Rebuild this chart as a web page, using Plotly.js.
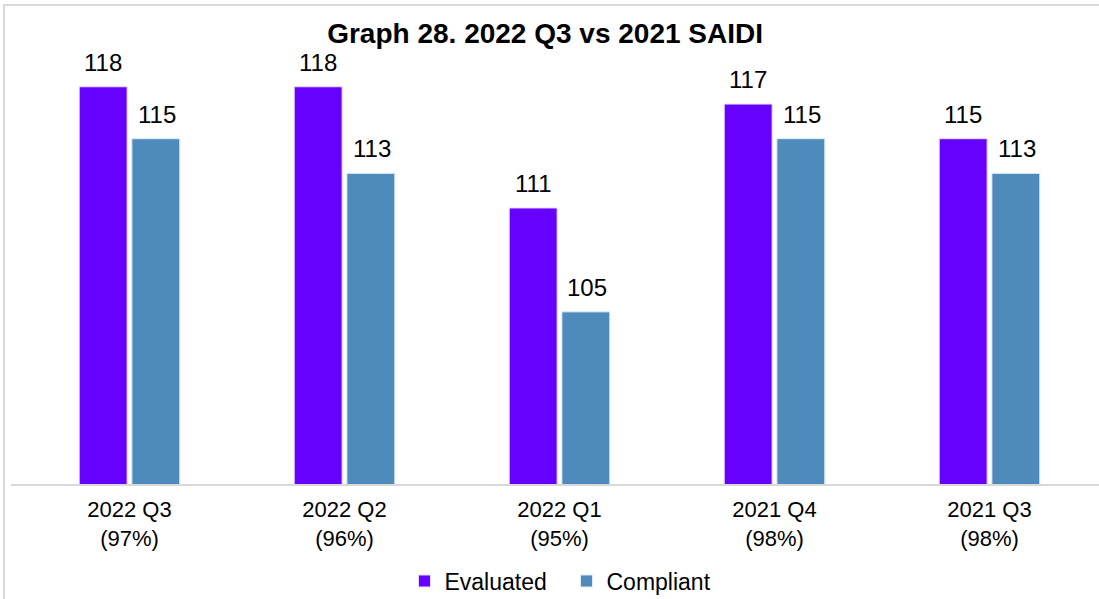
<!DOCTYPE html>
<html>
<head>
<meta charset="utf-8">
<script src="https://cdn.plot.ly/plotly-3.0.1.min.js"></script>
<style>
  html, body { margin: 0; padding: 0; background: #fff; overflow: hidden; }
  #chart { width: 1099px; height: 599px; }
  #frame { position: absolute; left: 3px; top: 4px; width: 1110px; height: 610px;
           border: 2px solid #d9d9d9; box-sizing: border-box; pointer-events: none; }
</style>
</head>
<body>
<div id="chart"></div>
<div id="frame"></div>
<script>
// chart data
const quarters = ['2022 Q3', '2022 Q2', '2022 Q1', '2021 Q4', '2021 Q3'];
const shares = ['97%', '96%', '95%', '98%', '98%'];
const evaluated = [118, 118, 111, 117, 115];
const compliant = [115, 113, 105, 115, 113];

const categories = quarters.map((q, i) => q + '<br>(' + shares[i] + ')');

const traces = [{
  x: categories,
  y: evaluated,
  name: 'Evaluated',
  type: 'bar',
  marker: { color: '#6600ff', line: { color: '#e8e0ff', width: 1 } }
}, {
  x: categories,
  y: compliant,
  name: 'Compliant',
  type: 'bar',
  marker: { color: '#4f8abd', line: { color: '#e0ecf6', width: 1 } }
}];

// value labels sit above each bar, shifted to its slot in the group
const labelFont = { size: 24, color: '#000' };
const valueLabels = [];
categories.forEach((c, i) => {
  valueLabels.push({ x: c, y: evaluated[i], text: String(evaluated[i]), xshift: -27, yshift: 9,
    yanchor: 'bottom', showarrow: false, font: labelFont });
  valueLabels.push({ x: c, y: compliant[i], text: String(compliant[i]), xshift: 27, yshift: 9,
    yanchor: 'bottom', showarrow: false, font: labelFont });
});

const layout = {
  width: 1099,
  height: 599,
  margin: { l: 22, r: 2, t: 40, b: 114 },
  paper_bgcolor: '#fff',
  plot_bgcolor: '#fff',
  font: { family: 'Liberation Sans, Arial, sans-serif', color: '#000' },
  title: {
    text: '<b>Graph 28. 2022 Q3 vs 2021 SAIDI</b>',
    font: { size: 28, color: '#000' },
    x: 0.496, xanchor: 'center',
    y: 0.945, yanchor: 'middle'
  },
  barmode: 'group',
  bargap: 0.51,
  bargroupgap: 0.09,
  xaxis: {
    showline: false,
    ticks: '',
    tickfont: { size: 22, color: '#000' },
    ticklabelstandoff: 9
  },
  yaxis: {
    range: [95, 120.7],
    visible: false,
    showgrid: false
  },
  annotations: valueLabels,
  showlegend: true,
  legend: {
    orientation: 'h',
    xref: 'paper', yref: 'container',
    x: 0.5065, xanchor: 'center',
    y: 0.03, yanchor: 'middle',
    font: { size: 23, color: '#000' },
    itemwidth: 30,
    entrywidth: 117,
    entrywidthmode: 'pixels',
    tracegroupgap: 0
  },
  shapes: [{
    type: 'line', xref: 'paper', yref: 'paper',
    x0: -0.0102, x1: 1.002, y0: 0, y1: 0,
    line: { color: '#d9d9d9', width: 2 }
  }]
};

Plotly.newPlot('chart', traces, layout, { displayModeBar: false, staticPlot: true });
</script>
</body>
</html>
